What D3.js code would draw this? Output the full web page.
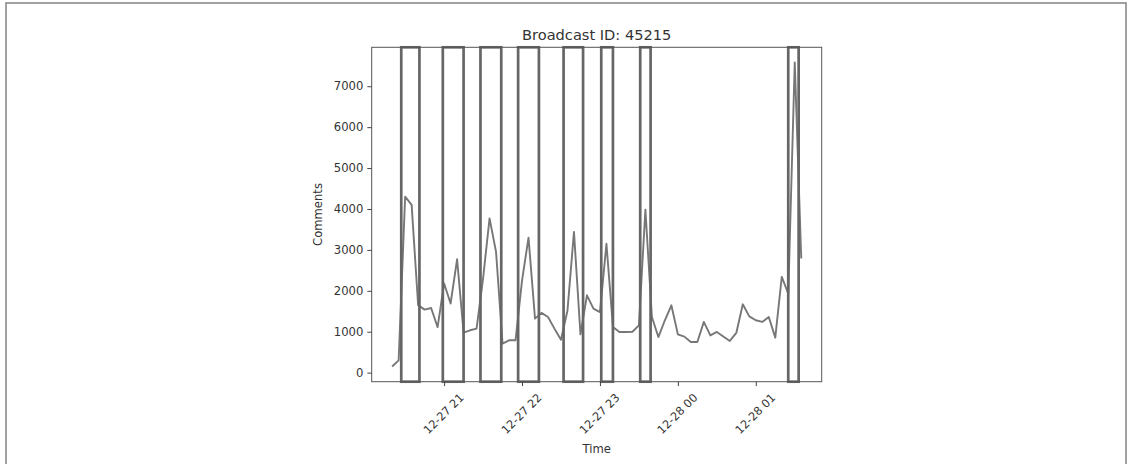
<!DOCTYPE html>
<html>
<head>
<meta charset="utf-8">
<script src="https://cdn.jsdelivr.net/npm/d3@7"></script>
<style>
  html, body { margin: 0; padding: 0; background: #fff; }
  svg { display: block; font-family: "DejaVu Sans", sans-serif; }
</style>
</head>
<body>
<svg id="chart" width="1129" height="464"></svg>
<script>
const times = [
  "2023-12-27T20:20","2023-12-27T20:25","2023-12-27T20:30","2023-12-27T20:35","2023-12-27T20:40","2023-12-27T20:45","2023-12-27T20:50","2023-12-27T20:55",
  "2023-12-27T21:00","2023-12-27T21:05","2023-12-27T21:10","2023-12-27T21:15","2023-12-27T21:20","2023-12-27T21:25","2023-12-27T21:30","2023-12-27T21:35",
  "2023-12-27T21:40","2023-12-27T21:45","2023-12-27T21:50","2023-12-27T21:55","2023-12-27T22:00","2023-12-27T22:05","2023-12-27T22:10","2023-12-27T22:15",
  "2023-12-27T22:20","2023-12-27T22:25","2023-12-27T22:30","2023-12-27T22:35","2023-12-27T22:40","2023-12-27T22:45","2023-12-27T22:50","2023-12-27T22:55",
  "2023-12-27T23:00","2023-12-27T23:05","2023-12-27T23:10","2023-12-27T23:15","2023-12-27T23:20","2023-12-27T23:25","2023-12-27T23:30","2023-12-27T23:35",
  "2023-12-27T23:40","2023-12-27T23:45","2023-12-27T23:50","2023-12-27T23:55","2023-12-28T00:00","2023-12-28T00:05","2023-12-28T00:10","2023-12-28T00:15",
  "2023-12-28T00:20","2023-12-28T00:25","2023-12-28T00:30","2023-12-28T00:35","2023-12-28T00:40","2023-12-28T00:45","2023-12-28T00:50","2023-12-28T00:55",
  "2023-12-28T01:00","2023-12-28T01:05","2023-12-28T01:10","2023-12-28T01:15","2023-12-28T01:20","2023-12-28T01:25","2023-12-28T01:30","2023-12-28T01:35"
];
const comments = [
  150, 300, 4300, 4100, 1650, 1540, 1580, 1110,
  2180, 1690, 2770, 980, 1035, 1075, 2300, 3770,
  2950, 710, 790, 790, 2250, 3300, 1320, 1460,
  1360, 1075, 805, 1520, 3440, 935, 1890, 1565,
  1480, 3150, 1115, 995, 995, 1000, 1155, 3985,
  1360, 870, 1280, 1645, 935, 880, 750, 750,
  1240, 910, 995, 885, 775, 970, 1670, 1375,
  1280, 1240, 1360, 855, 2340, 1930, 7580, 2790
];
const highlightStarts = ["2023-12-27T20:27","2023-12-27T20:59","2023-12-27T21:28","2023-12-27T21:57","2023-12-27T22:32","2023-12-27T23:01","2023-12-27T23:31","2023-12-28T01:25"];
const highlightEnds   = ["2023-12-27T20:41","2023-12-27T21:15","2023-12-27T21:44","2023-12-27T22:13","2023-12-27T22:47","2023-12-27T23:10","2023-12-27T23:39","2023-12-28T01:33"];
const yTicks = [0, 1000, 2000, 3000, 4000, 5000, 6000, 7000];
const xTicks = ["2023-12-27T21:00","2023-12-27T22:00","2023-12-27T23:00","2023-12-28T00:00","2023-12-28T01:00"];
const titleText = "Broadcast ID: 45215";
const xLabel = "Time";
const yLabel = "Comments";

const parse = d3.isoParse;
const data = times.map((t, i) => ({ t: parse(t), v: comments[i] }));
const spans = highlightStarts.map((s, i) => ({ s: parse(s), e: parse(highlightEnds[i]) }));

const svg = d3.select("#chart");
const L = 371.7, R = 821.7, T = 47.3, B = 381.7;

// outer frame
svg.append("rect").attr("x", 6).attr("y", 3).attr("width", 1120).attr("height", 480)
  .attr("fill", "none").attr("stroke", "#8a8a8a").attr("stroke-width", 1.6);

const tExt = d3.extent(data, d => d.t);
const tSpan = tExt[1] - tExt[0];
const x = d3.scaleTime()
  .domain([new Date(+tExt[0] - 0.05 * tSpan), new Date(+tExt[1] + 0.05 * tSpan)])
  .range([L, R]);
const vExt = d3.extent(comments);
const vSpan = vExt[1] - vExt[0];
const y = d3.scaleLinear()
  .domain([vExt[0] - 0.05 * vSpan, vExt[1] + 0.05 * vSpan])
  .range([B, T]);

// line
svg.append("path").datum(data)
  .attr("fill", "none").attr("stroke", "#777").attr("stroke-width", 1.9)
  .attr("stroke-linejoin", "round")
  .attr("d", d3.line().x(d => x(d.t)).y(d => y(d.v)));

// highlight rectangles
svg.append("g").selectAll("rect").data(spans).join("rect")
  .attr("x", d => x(d.s)).attr("width", d => x(d.e) - x(d.s))
  .attr("y", y(y.domain()[1])).attr("height", y(y.domain()[0]) - y(y.domain()[1]))
  .attr("fill", "none").attr("stroke", "#666").attr("stroke-width", 2.7);

// spines
svg.append("rect").attr("x", L).attr("y", T).attr("width", R - L).attr("height", B - T)
  .attr("fill", "none").attr("stroke", "#555").attr("stroke-width", 1);

// y axis
const yAxis = d3.axisLeft(y).tickValues(yTicks).tickSize(4.4).tickPadding(4).tickFormat(d3.format("d"));
const gy = svg.append("g").attr("transform", `translate(${L},0)`).call(yAxis);
gy.select(".domain").remove();
gy.selectAll("line").attr("stroke", "#444").attr("stroke-width", 1);
gy.selectAll("text").attr("fill", "#333").style("font-size", "11.6px").style("font-family", "DejaVu Sans");

// x axis
const xAxis = d3.axisBottom(x).tickValues(xTicks.map(parse)).tickSize(4.4).tickFormat(d3.timeFormat("%m-%d %H"));
const gx = svg.append("g").attr("transform", `translate(0,${B})`).call(xAxis);
gx.select(".domain").remove();
gx.selectAll("line").attr("stroke", "#444").attr("stroke-width", 1);
gx.selectAll("text")
  .attr("fill", "#333").style("font-size", "11.4px").style("font-family", "DejaVu Sans")
  .attr("text-anchor", "middle").attr("dominant-baseline", "central")
  .attr("y", 0).attr("dy", 0)
  .attr("transform", "translate(-1,32) rotate(-45)");

// labels
svg.append("text").attr("x", (L + R) / 2).attr("y", 40).attr("text-anchor", "middle")
  .attr("fill", "#333").style("font-size", "14.6px").text(titleText);
svg.append("text").attr("x", (L + R) / 2).attr("y", 453).attr("text-anchor", "middle")
  .attr("fill", "#333").style("font-size", "11.6px").text(xLabel);
svg.append("text").attr("transform", `translate(322,${(T + B) / 2}) rotate(-90)`).attr("text-anchor", "middle")
  .attr("fill", "#333").style("font-size", "11.6px").text(yLabel);
</script>
</body>
</html>
